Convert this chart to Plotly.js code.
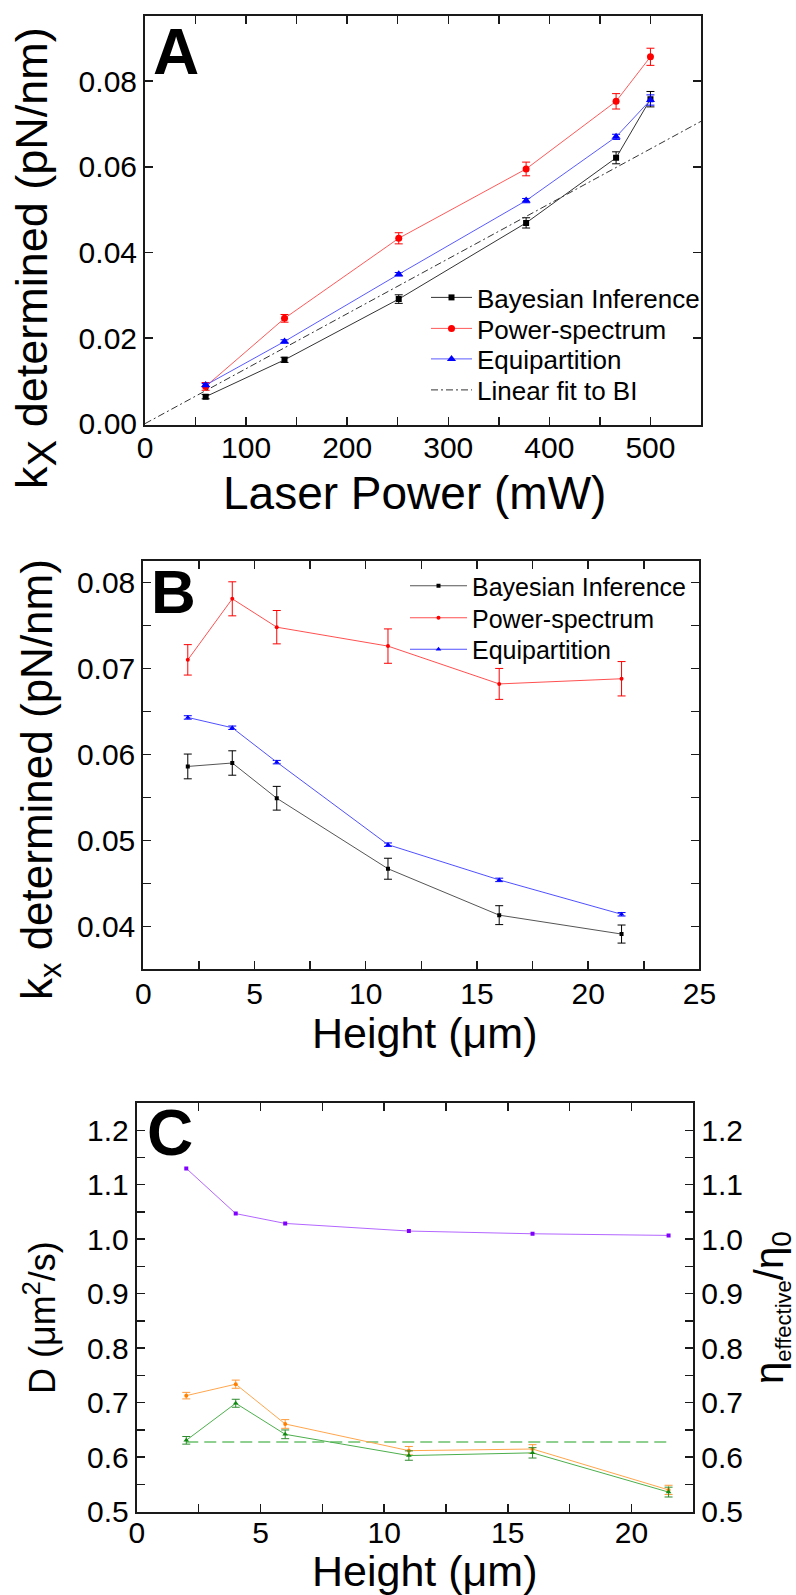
<!DOCTYPE html>
<html>
<head>
<meta charset="utf-8">
<script src="https://cdn.plot.ly/plotly-3.0.1.min.js"></script>
<style>
  html, body { margin: 0; padding: 0; background: #fff; }
  #chart { width: 796px; height: 1595px; }
</style>
</head>
<body>
<div id="chart"></div>
<script>
// ---------- Panel A: trap stiffness vs laser power ----------
const powerMW = [60, 138, 251, 377, 466, 500];
const kBayesA = [0.0063, 0.0149, 0.0291, 0.0469, 0.0621, 0.0758];
const kBayesAErr = [0.0005, 0.0006, 0.0010, 0.0012, 0.0014, 0.0018];
const kPowerA = [0.0087, 0.0246, 0.0433, 0.0595, 0.0753, 0.0857];
const kPowerAErr = [0.0009, 0.0009, 0.0013, 0.0016, 0.0018, 0.0020];
const kEquiA = [0.0090, 0.0192, 0.0349, 0.0521, 0.0670, 0.0756];
const kEquiAErr = [0.0004, 0.0004, 0.0004, 0.0005, 0.0006, 0.0012];
// linear fit to the Bayesian inference points (k = slope * P + intercept)
const fitSlope = 1.284e-4;
const fitIntercept = 0;
const fitPower = [0, 550];

// ---------- Panel B: trap stiffness vs height ----------
const heightB = [2, 4, 6, 11, 16, 21.5];
const kBayesB = [0.0586, 0.0590, 0.0549, 0.0467, 0.0413, 0.0391];
const kBayesBErr = [0.00144, 0.00142, 0.00138, 0.00122, 0.0011, 0.00105];
const kPowerB = [0.0710, 0.0781, 0.0748, 0.0726, 0.0682, 0.0688];
const kPowerBErr = [0.00177, 0.00198, 0.00194, 0.0020, 0.0018, 0.0020];
const kEquiB = [0.0643, 0.0631, 0.0591, 0.0495, 0.0454, 0.0414];
const kEquiBErr = [0.0002, 0.0002, 0.0002, 0.0002, 0.0002, 0.0002];

// ---------- Panel C: diffusion coefficient and viscosity ratio vs height ----------
const heightC = [2, 4, 6, 11, 16, 21.5];
const etaRatio = [1.130, 1.047, 1.029, 1.015, 1.010, 1.007];
const dOrange = [0.713, 0.734, 0.661, 0.612, 0.615, 0.540];
const dOrangeErr = [0.006, 0.0075, 0.008, 0.0077, 0.008, 0.0085];
const dGreen = [0.631, 0.699, 0.642, 0.603, 0.608, 0.536];
const dGreenErr = [0.007, 0.0073, 0.008, 0.0086, 0.0095, 0.009];
const dBulk = 0.628;
const dBulkSpan = [2, 21.5];

const FONT = 'Liberation Sans, Arial, sans-serif';
const W = 796, H = 1595;
const px = v => v / W;          // horizontal pixel -> paper fraction
const py = v => 1 - v / H;      // vertical pixel -> paper fraction

function axis(extra) {
  return Object.assign({
    showline: true, linecolor: '#1a1a1a', linewidth: 2, mirror: 'ticks',
    ticks: 'inside', ticklen: 8, tickwidth: 1.5, tickcolor: '#1a1a1a',
    showgrid: false, zeroline: false,
    tickfont: { family: FONT, size: 30, color: '#000' }
  }, extra);
}
const minorTicks = d => ({ dtick: d, ticks: 'inside', ticklen: 8, tickwidth: 1.5, tickcolor: '#1a1a1a', showgrid: false });

function series(x, y, err, name, lineColor, markColor, symbol, size, xa, ya, legend, errColor) {
  const t = {
    x: x, y: y, name: name, type: 'scatter', mode: 'lines+markers',
    line: { color: lineColor, width: 1 },
    marker: { color: markColor, symbol: symbol, size: size },
    xaxis: xa, yaxis: ya
  };
  if (err) t.error_y = { type: 'data', array: err, visible: true, color: errColor || markColor, thickness: 1, width: 4 };
  if (legend) t.legend = legend; else t.showlegend = false;
  return t;
}

const traces = [
  series(powerMW, kBayesA, kBayesAErr, 'Bayesian Inference', '#333333', '#000000', 'square', 6, 'x', 'y', 'legend'),
  series(powerMW, kPowerA, kPowerAErr, 'Power-spectrum', '#ff5a5a', '#ff0000', 'circle', 7, 'x', 'y', 'legend3'),
  series(powerMW, kEquiA, kEquiAErr, 'Equipartition', '#5a5aff', '#0000ff', 'triangle-up', 8, 'x', 'y', 'legend4'),
  {
    x: fitPower, y: fitPower.map(p => fitSlope * p + fitIntercept), name: 'Linear fit to BI',
    type: 'scatter', mode: 'lines', line: { color: '#333333', width: 1, dash: '7px,3px,2px,3px' },
    xaxis: 'x', yaxis: 'y', legend: 'legend5'
  },
  series(heightB, kBayesB, kBayesBErr, 'Bayesian Inference', '#555555', '#000000', 'square', 4, 'x2', 'y2', 'legend2'),
  series(heightB, kPowerB, kPowerBErr, 'Power-spectrum', '#ff5050', '#ff0000', 'circle', 4, 'x2', 'y2', 'legend6'),
  series(heightB, kEquiB, kEquiBErr, 'Equipartition', '#5050ff', '#0000ff', 'triangle-up', 5, 'x2', 'y2', 'legend7'),
  {
    x: dBulkSpan, y: dBulkSpan.map(() => dBulk), type: 'scatter', mode: 'lines', showlegend: false,
    line: { color: '#8fcf8f', width: 2, dash: '12px,6px' }, xaxis: 'x3', yaxis: 'y3'
  },
  series(heightC, dOrange, dOrangeErr, 'D orange', '#ffa64d', '#ff8000', 'circle', 4, 'x3', 'y3', null, '#ff9a3a'),
  series(heightC, dGreen, dGreenErr, 'D green', '#4caf4c', '#108a10', 'triangle-up', 5, 'x3', 'y3', null, '#2e8b2e'),
  series(heightC, etaRatio, null, 'eta ratio', '#b366ff', '#8000ff', 'square', 4, 'x3', 'y4', null)
];

// one legend box per entry so each row sits at its own height
function legendRow(left, centerY, size, itemW) {
  return {
    x: px(left), y: py(centerY), xanchor: 'left', yanchor: 'middle',
    font: { family: FONT, size: size, color: '#000' }, itemwidth: itemW,
    bgcolor: 'rgba(0,0,0,0)', borderwidth: 0
  };
}

const titleFont = s => ({ family: FONT, size: s, color: '#000' });
function label(text, x, y, size, angle) {
  return {
    text: text, x: px(x), y: py(y), xref: 'paper', yref: 'paper',
    xanchor: 'center', yanchor: 'middle', textangle: angle || 0,
    showarrow: false, font: titleFont(size)
  };
}

const layout = {
  width: W, height: H,
  margin: { l: 0, r: 0, t: 0, b: 0 },
  paper_bgcolor: '#fff', plot_bgcolor: '#fff',
  font: { family: FONT, size: 30, color: '#000' },
  xaxis: axis({ domain: [px(145), px(701)], range: [0, 550], dtick: 100, tick0: 0, anchor: 'y', ticklabelstandoff: -5, minor: minorTicks(50) }),
  yaxis: axis({ domain: [py(424.5), py(15.7)], range: [-0.0002, 0.0953], dtick: 0.02, tick0: 0, tickformat: '.2f', anchor: 'x' }),
  xaxis2: axis({ domain: [px(143.3), px(699.4)], range: [0, 25], dtick: 5, tick0: 0, anchor: 'y2', ticklabelstandoff: -3, minor: minorTicks(2.5) }),
  yaxis2: axis({ domain: [py(969.3), py(561)], range: [0.035, 0.0825], dtick: 0.01, tick0: 0, tickformat: '.2f', anchor: 'x2', minor: minorTicks(0.005) }),
  xaxis3: axis({ domain: [px(136.8), px(693.3)], range: [0, 22.5], dtick: 5, tick0: 0, anchor: 'y3', ticklabelstandoff: -7, minor: minorTicks(2.5) }),
  yaxis3: axis({ domain: [py(1511.7), py(1103)], range: [0.5, 1.25], dtick: 0.1, tick0: 0.5, tickformat: '.1f', anchor: 'x3', minor: minorTicks(0.05) }),
  yaxis4: axis({ range: [0.5, 1.25], dtick: 0.1, tick0: 0.5, tickformat: '.1f', overlaying: 'y3', side: 'right', anchor: 'x3', mirror: false, minor: minorTicks(0.05) }),
  legend: legendRow(426, 297.5, 26, 41),
  legend3: legendRow(426, 328.5, 26, 41),
  legend4: legendRow(426, 359, 26, 41),
  legend5: legendRow(426, 390, 26, 41),
  legend2: legendRow(405, 586, 25, 57),
  legend6: legendRow(405, 618, 25, 57),
  legend7: legendRow(405, 649.5, 25, 57),
  annotations: [
    // panel letters
    { text: '<b>A</b>', x: px(176), y: py(52), xref: 'paper', yref: 'paper', xanchor: 'center', yanchor: 'middle', showarrow: false, font: titleFont(64) },
    { text: '<b>B</b>', x: px(173), y: py(591), xref: 'paper', yref: 'paper', xanchor: 'center', yanchor: 'middle', showarrow: false, font: titleFont(62) },
    { text: '<b>C</b>', x: px(170), y: py(1133), xref: 'paper', yref: 'paper', xanchor: 'center', yanchor: 'middle', showarrow: false, font: titleFont(64) },
    // axis titles
    label('k<sub><span style="font-size:40px">X</span></sub> determined (pN/nm)', 35, 258, 45, -90),
    label('Laser Power (mW)', 414, 493, 46),
    label('k<sub>x</sub> determined (pN/nm)', 40, 780, 44, -90),
    label('Height (μm)', 425, 1033, 43),
    label('D (μm<sup>2</sup>/s)', 40, 1318, 36, -90),
    label('η<sub><span style="font-size:22px">effective</span></sub>/η<sub>0</sub>', 772, 1308, 40, -90),
    label('Height (μm)', 425, 1571, 43)
  ]
};

Plotly.newPlot('chart', traces, layout, { displayModeBar: false, staticPlot: true });
</script>
</body>
</html>
